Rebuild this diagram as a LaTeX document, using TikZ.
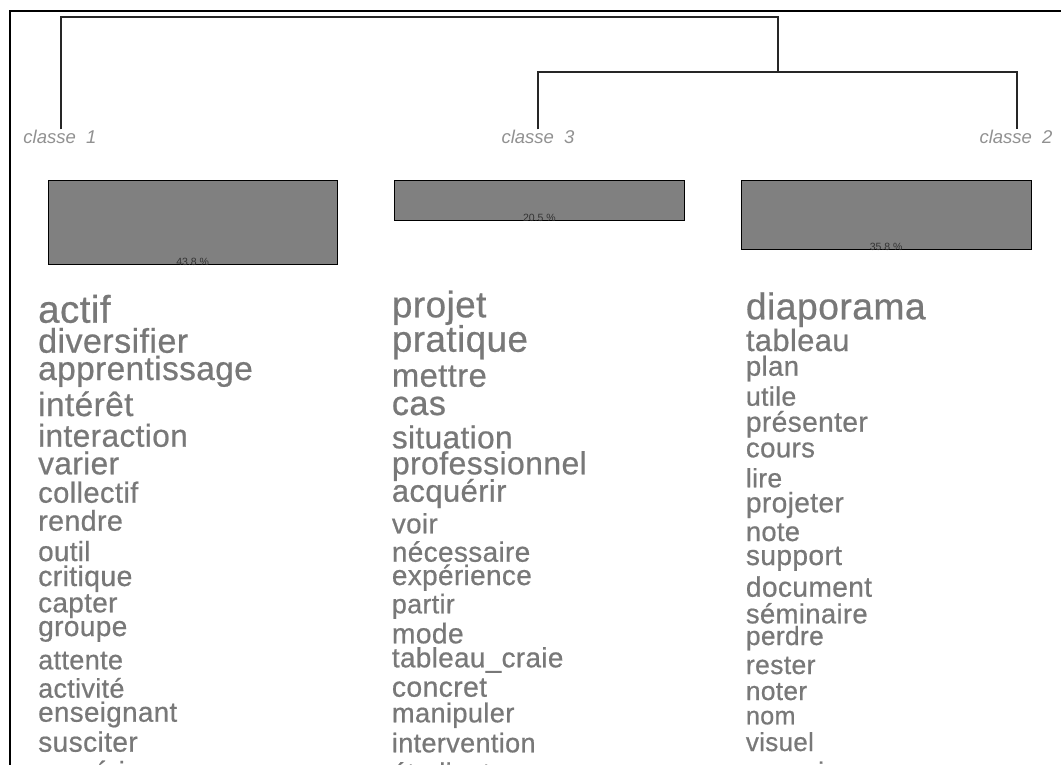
\documentclass[tikz,border=0pt]{standalone}
\usepackage{fontspec}
\setmainfont{Liberation Sans}
\newfontfamily\wordfont{Liberation Sans}[FakeBold=0.6,LetterSpace=1.2]
\definecolor{wordgray}{RGB}{120,120,120}
\definecolor{labgray}{RGB}{145,145,145}
\definecolor{boxgray}{RGB}{128,128,128}
\begin{document}
\begin{tikzpicture}[x=1pt,y=-1pt,
  frame/.style={line width=2pt,black},
  dend/.style={line width=1.4pt,black!85},
  classlab/.style={inner sep=0pt,anchor=base,text=labgray,font=\fontsize{18.5}{18.5}\selectfont\itshape},
  sizebox/.style={draw=black,line width=1pt,fill=boxgray,inner sep=0pt,anchor=north west},
  pct/.style={inner sep=0pt,anchor=base,font=\fontsize{10.5}{10.5}\selectfont,text=black!80},
  word/.style={inner sep=0pt,anchor=base west,text=wordgray}]
\clip (0,0) rectangle (1061,764);
\fill[white] (0,0) rectangle (1061,764);
% frame (cropped at right and bottom)
\draw[frame] (9.5,800) -- (9.5,11) -- (1100,11);
% class labels
\node[classlab] (c1) at (60,143) {classe\ \ 1};
\node[classlab] (c3) at (538,143) {classe\ \ 3};
\node[classlab] (c2) at (1016,143) {classe\ \ 2};
% dendrogram
\coordinate (j1) at (778,17);
\coordinate (j2) at (778,72);
\draw[dend] ([xshift=1pt]c1.north) |- (j1) -- (j2);
\draw[dend] (c3.north) |- (j2) -| ([xshift=1pt]c2.north);
% size boxes
\node[sizebox,minimum width=289pt,minimum height=83.7pt] (b1) at (47.7,180.3) {};
\node[sizebox,minimum width=290.3pt,minimum height=39.7pt] (b3) at (393.7,180.3) {};
\node[sizebox,minimum width=290pt,minimum height=68.4pt] (b2) at (740.7,180.3) {};
\node[pct] (p1) at ([yshift=-0.5pt]b1.south) {43.8 \%};
\node[pct] (p3) at ([yshift=-0.5pt]b3.south) {20.5 \%};
\node[pct] (p2) at ([yshift=-0.5pt]b2.south) {35.8 \%};
% column 1
\foreach \t/\y/\s [count=\i] in {actif/322.7/38.5, diversifier/352.7/34.1, apprentissage/380/33.4,
  intérêt/416/33.4, interaction/446.7/31.6, varier/474.3/31.6, collectif/502.7/29.2,
  rendre/530.7/28.7, outil/561/27.8, critique/586/28.5, capter/612.3/27.9, groupe/636/28.1,
  attente/669.3/27.1, activité/697.7/27, enseignant/721.7/27.8, susciter/751.7/28.2,
  numérique/781/27.8}
  \node[word,font=\wordfont\fontsize{\s}{\s}\selectfont] (wa\i) at (38,\y) {\t};
% column 2
\foreach \t/\y/\s [count=\i] in {projet/317.3/36.9, pratique/351.7/36.8, mettre/386.7/32.8,
  cas/415/34.2, situation/448.3/31.6, professionnel/474.3/32, acquérir/501.7/31,
  voir/533.3/27.8, nécessaire/561.7/28, expérience/585/28, partir/613.3/26.9,
  mode/643.3/28.3, tableau\_craie/667.3/27.9, concret/696.7/28.4, manipuler/722.3/27.3,
  intervention/752.3/27.1, étudiant/782/27}
  \node[word,font=\wordfont\fontsize{\s}{\s}\selectfont] (wb\i) at (391.7,\y) {\t};
% column 3
\foreach \t/\y/\s [count=\i] in {diaporama/319.3/37.3, tableau/351/30.9, plan/375.7/27.6,
  utile/405.7/26.8, présenter/431.7/28.2, cours/457.3/27.7, lire/487.3/26.5,
  projeter/512.3/28.2, note/541/27.3, support/565/28.2, document/596.7/28.2,
  séminaire/623.3/27.5, perdre/645/26.4, rester/674/26.6, noter/700/26.3,
  nom/724.3/25.2, visuel/751/26, compris/780/25.5}
  \node[word,font=\wordfont\fontsize{\s}{\s}\selectfont] (wc\i) at (745.7,\y) {\t};
\end{tikzpicture}
\end{document}
